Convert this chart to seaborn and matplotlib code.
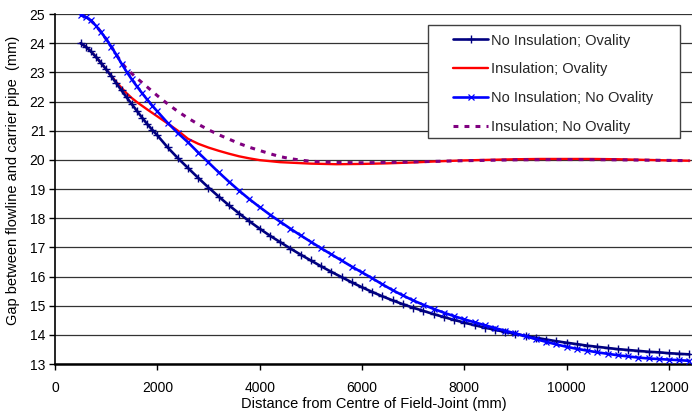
import matplotlib
matplotlib.use("Agg")
import matplotlib.pyplot as plt
import seaborn as sns
import pandas as pd
from matplotlib.patches import Rectangle

# ---------------- data ----------------
marked_x = [500, 600, 700, 800, 900, 1000, 1100, 1200, 1300, 1400, 1500, 1600, 1700, 1800, 1900,
            2000, 2200, 2400, 2600, 2800, 3000, 3200, 3400, 3600, 3800, 4000, 4200, 4400, 4600, 4800,
            5000, 5200, 5400, 5600, 5800, 6000, 6200, 6400, 6600, 6800, 7000, 7200, 7400, 7600, 7800,
            8000, 8200, 8400, 8600, 8800, 9000, 9200, 9400, 9600, 9800, 10000, 10200, 10400, 10600,
            10800, 11000, 11200, 11400, 11600, 11800, 12000, 12200, 12400]

no_ins_oval = [24.00, 23.88, 23.72, 23.53, 23.32, 23.10, 22.87, 22.62, 22.38, 22.14, 21.91, 21.68, 21.45, 21.23, 21.03,
               20.84, 20.43, 20.06, 19.72, 19.38, 19.05, 18.74, 18.44, 18.16, 17.89, 17.64, 17.40, 17.18, 16.96, 16.75,
               16.55, 16.35, 16.16, 15.98, 15.80, 15.63, 15.47, 15.32, 15.18, 15.05, 14.93, 14.82, 14.71, 14.61, 14.51,
               14.42, 14.33, 14.25, 14.17, 14.10, 14.03, 13.96, 13.90, 13.84, 13.78, 13.73, 13.68, 13.63, 13.59,
               13.55, 13.51, 13.48, 13.45, 13.42, 13.40, 13.37, 13.35, 13.33]

no_ins_no_oval = [24.97, 24.90, 24.78, 24.60, 24.38, 24.14, 23.88, 23.60, 23.30, 23.02, 22.76, 22.52, 22.29, 22.07, 21.86,
                  21.66, 21.27, 20.92, 20.60, 20.25, 19.91, 19.57, 19.25, 18.94, 18.65, 18.38, 18.12, 17.88, 17.64, 17.41,
                  17.19, 16.97, 16.76, 16.55, 16.34, 16.14, 15.94, 15.73, 15.53, 15.35, 15.18, 15.03, 14.89, 14.76, 14.64,
                  14.53, 14.43, 14.33, 14.23, 14.14, 14.05, 13.95, 13.85, 13.76, 13.67, 13.59, 13.52, 13.46, 13.40,
                  13.35, 13.30, 13.26, 13.22, 13.19, 13.17, 13.15, 13.13, 13.11]

ins_oval_x = [500, 600, 700, 800, 900, 1000, 1100, 1200, 1300, 1400, 1500, 1600, 1800, 2000,
              2200, 2400, 2600, 2800, 3000, 3200, 3400, 3600, 3800, 4000, 4400, 5000, 5500, 6000, 6500,
              7000, 7500, 8000, 8500, 9000, 9500, 10000, 10500, 11000, 11500, 12000, 12400]
ins_oval = [24.00, 23.88, 23.72, 23.53, 23.32, 23.10, 22.88, 22.66, 22.47, 22.28, 22.12, 21.98, 21.73, 21.49,
            21.25, 21.00, 20.72, 20.55, 20.42, 20.31, 20.21, 20.12, 20.05, 19.99, 19.92, 19.87, 19.85, 19.86, 19.88,
            19.91, 19.95, 19.98, 20.00, 20.02, 20.03, 20.03, 20.03, 20.02, 20.00, 19.98, 19.97]

ins_no_oval_x = [500, 600, 700, 800, 900, 1000, 1100, 1200, 1300, 1400, 1600, 1800, 2000, 2200, 2400, 2600,
                 2800, 3000, 3200, 3400, 3600, 3800, 4000, 4200, 4400, 4600, 4800, 5000, 5500, 6000, 6500,
                 7000, 8000, 9000, 10000, 11000, 12000, 12400]
ins_no_oval = [24.97, 24.90, 24.78, 24.60, 24.38, 24.14, 23.88, 23.60, 23.34, 23.12, 22.80, 22.50, 22.20, 21.92, 21.66, 21.43,
               21.22, 21.03, 20.86, 20.71, 20.56, 20.43, 20.32, 20.21, 20.11, 20.04, 19.99, 19.95, 19.91, 19.90, 19.91,
               19.93, 19.97, 20.00, 20.01, 20.00, 19.98, 19.97]

labels = ["No Insulation; Ovality", "Insulation; Ovality",
          "No Insulation; No Ovality", "Insulation; No Ovality"]
x_ticks = [0, 2000, 4000, 6000, 8000, 10000, 12000]
y_ticks = list(range(13, 26))

# ---------------- plot ----------------
sns.set_style("white")
plt.rcParams["font.family"] = ["Liberation Sans", "DejaVu Sans"]

fig = plt.figure(figsize=(6.92, 4.11), dpi=100)
ax = fig.add_axes([55 / 692, 1 - 364 / 411, 637 / 692, 350 / 411])

sns.lineplot(x=marked_x, y=no_ins_oval, ax=ax, color="#000080", lw=1.9, marker="+",
             markersize=6, markeredgewidth=1.0, markeredgecolor="#000080",
             label=labels[0], zorder=3, estimator=None, sort=False)
sns.lineplot(x=ins_oval_x, y=ins_oval, ax=ax, color="#FF0000", lw=1.7,
             label=labels[1], zorder=2, estimator=None, sort=False)
sns.lineplot(x=marked_x, y=no_ins_no_oval, ax=ax, color="#0000FF", lw=1.9, marker="x",
             markersize=5, markeredgewidth=0.9, markeredgecolor="#0000FF",
             label=labels[2], zorder=3.5, estimator=None, sort=False)
sns.lineplot(x=ins_no_oval_x, y=ins_no_oval, ax=ax, color="#800080", lw=2.2,
             label=labels[3], zorder=2.5, estimator=None, sort=False)
ax.lines[-1].set_dashes([1.6, 2.0])

ax.set_xlim(0, 12450)
ax.set_ylim(13, 25)
ax.set_xticks(x_ticks)
ax.set_yticks(y_ticks)
ax.set_xticklabels([str(v) for v in x_ticks])
ax.set_yticklabels([str(v) for v in y_ticks])

ax.yaxis.grid(True, color="#333333", lw=0.9)
ax.xaxis.grid(False)
ax.set_axisbelow(True)

for s in ["top", "right"]:
    ax.spines[s].set_visible(False)
ax.spines["bottom"].set_color("black")
ax.spines["bottom"].set_linewidth(1.8)
ax.spines["left"].set_color("black")
ax.spines["left"].set_linewidth(1.2)

ax.tick_params(axis="both", bottom=True, left=True, direction="out", length=4,
               width=1, color="black", labelsize=10, labelcolor="black")
ax.tick_params(axis="x", pad=8)
ax.tick_params(axis="y", pad=3)

ax.set_xlabel("Distance from Centre of Field-Joint (mm)", fontsize=10.5, color="black")
ax.set_ylabel("Gap between flowline and carrier pipe  (mm)", fontsize=10.5, color="black")
ax.xaxis.set_label_coords(0.5, -0.095)
ax.yaxis.set_label_coords(-0.055, 0.526)

# legend box
ax.add_patch(Rectangle((0.5856, 0.6457), 0.3956, 0.3229, transform=ax.transAxes,
                       facecolor="white", edgecolor="#404040", lw=1.0, zorder=5, clip_on=False))
handles, labs = ax.get_legend_handles_labels()
leg = ax.legend(handles, labs, loc="upper left", bbox_to_anchor=(0.625, 0.944),
                frameon=False, fontsize=10.5, handlelength=2.4, handletextpad=0.2,
                labelspacing=1.02, borderpad=0, borderaxespad=0)
leg.set_zorder(6)

fig.savefig("out.png", dpi=100)
